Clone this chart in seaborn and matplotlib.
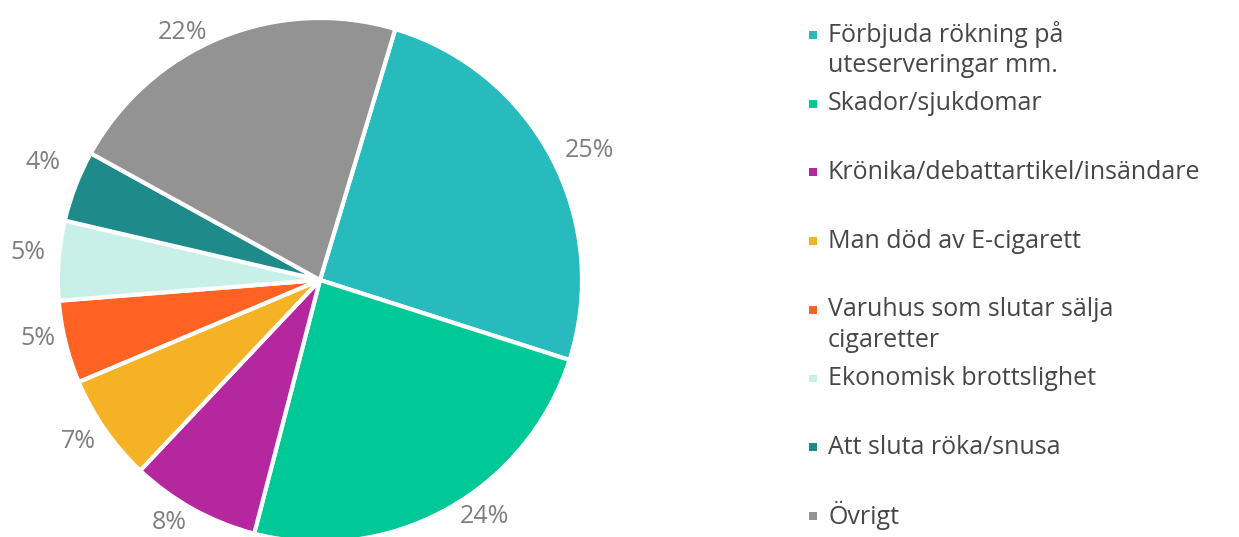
import numpy as np
import matplotlib.pyplot as plt
import seaborn as sns

# Data
categories = [
    "Förbjuda rökning på\nuteserveringar mm.",
    "Skador/sjukdomar",
    "Krönika/debattartikel/insändare",
    "Man död av E-cigarett",
    "Varuhus som slutar sälja\ncigaretter",
    "Ekonomisk brottslighet",
    "Att sluta röka/snusa",
    "Övrigt",
]
shares = [25.3, 24.1, 8.0, 6.6, 5.1, 4.9, 4.4, 21.6]
colors = ["#27BBBD", "#00C896", "#B4279F", "#F5B224",
          "#FF6222", "#C8F0E8", "#1E8A8A", "#939393"]

sns.set_style("white")
plt.rcParams["font.family"] = ["Open Sans", "DejaVu Sans"]

W, H = 1239, 537
fig = plt.figure(figsize=(W / 100, H / 100), dpi=100)

# pie
ax = fig.add_axes([58 / W, (H - 542) / H, 524 / W, 524 / H])
wedges, texts, autotexts = ax.pie(
    shares, colors=colors, startangle=73.3, counterclock=False,
    autopct="%.0f%%", pctdistance=1.11,
    wedgeprops=dict(edgecolor="white", linewidth=3),
    textprops=dict(color="#7F7F7F", fontsize=18),
)
ax.set_xlim(-1, 1)
ax.set_ylim(-1, 1)
ax.set_aspect("equal")

# place the percent labels roughly where the original has them
shift = [-2, 6, -3, -1, -2, -1, -2, 7]
dist = [1.14, 1.10, 1.09, 1.11, 1.10, 1.12, 1.15, 1.08]
for w, t, s, d in zip(wedges, autotexts, shift, dist):
    a = np.deg2rad((w.theta1 + w.theta2) / 2 + s)
    t.set_position((d * np.cos(a), d * np.sin(a)))

# legend, drawn by hand so the marker sits on the first line
lax = fig.add_axes([0, 0, 1, 1])
lax.set_xlim(0, W)
lax.set_ylim(H, 0)
lax.axis("off")
row_y = 35 + 68.7 * np.arange(len(categories))
lax.scatter(np.full(len(categories), 813), row_y, marker="s", s=32,
            c=colors, linewidths=0)
for y, lab in zip(row_y, categories):
    for k, line in enumerate(lab.split("\n")):
        lax.text(828, y + 31 * k, line, va="center", ha="left",
                 fontsize=18, color="#474747")

fig.savefig("out.png", dpi=100)
